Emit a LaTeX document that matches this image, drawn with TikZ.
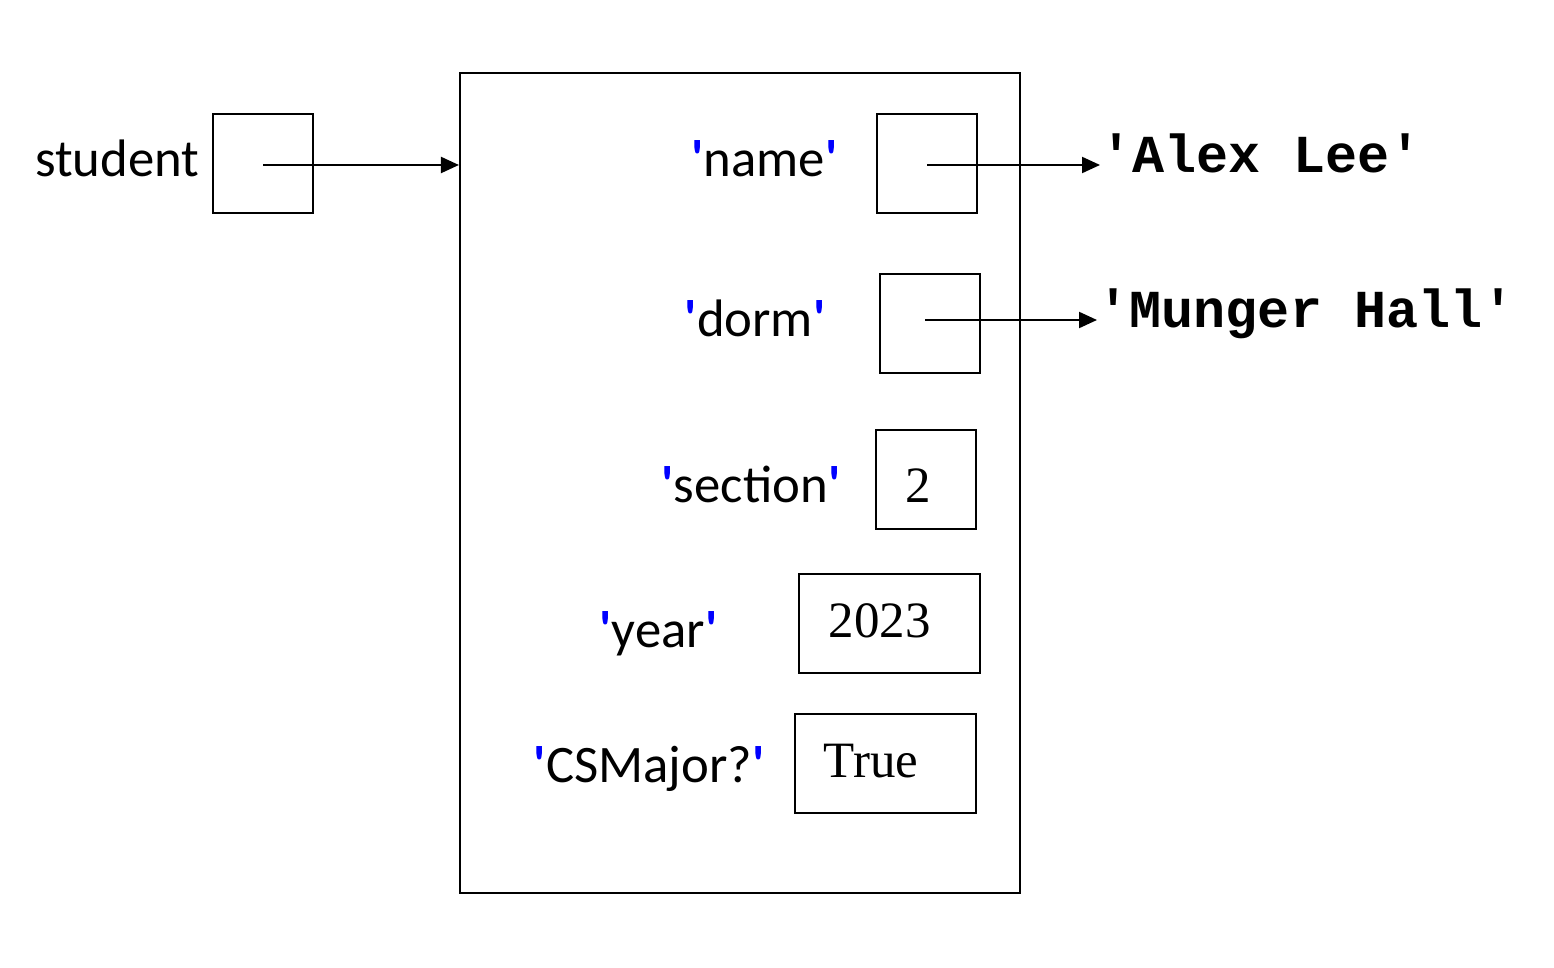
\documentclass[tikz,border=0pt]{standalone}
\usepackage{fontspec}
\usepackage{tikz}
\usetikzlibrary{positioning, arrows.meta}
\newfontfamily\labfont{Carlito}
\newfontfamily\codefont{Liberation Mono}
\newfontfamily\valfont{Liberation Serif}
\newcommand{\bq}{{\color{blue}\bfseries\char"27}}
\newcommand{\key}[1]{\bq#1\bq}

\begin{document}
\begin{tikzpicture}[cell/.style={draw, line width=0.6pt, minimum width=1cm,
		minimum height=0.99cm, inner sep=0pt}, wide/.style={cell, minimum width=1.81cm},
	lab/.style={font=\labfont\fontsize{15}{18}\selectfont, inner sep=0pt, anchor=base east},
	val/.style={font=\valfont\fontsize{14.5}{17}\selectfont, inner sep=0pt, anchor=base west},
	str/.style={font=\codefont\bfseries\fontsize{15.2}{18}\selectfont, inner sep=0pt, anchor=base west},
	ptr/.style={-{Triangle[length=1.8mm,width=1.6mm]}, line width=0.6pt}]
	\useasboundingbox (0,-9.68) rectangle (15.54,0);
	% variable
	\node [lab] (stu) at (2.0,-1.77) {student};
	\node [cell] (stubox) at (2.63,-1.635) {};
	% dictionary
	\node [draw, line width=0.6pt, minimum width=5.6cm, minimum height=8.2cm] (dict) at (7.40,-4.83) {};
	\node [lab] (kname) at (8.38,-1.77) {\key{name}};
	\node [lab] (kdorm) at (8.26,-3.37) {\key{dorm}};
	\node [lab] (ksec) at (8.41,-5.02) {\key{section}};
	\node [lab] (kyear) at (7.18,-6.47) {\key{year}};
	\node [lab] (kcs) at (7.65,-7.82) {\key{CSMajor?}};
	\node [cell] (vname) at (9.27,-1.635) {};
	\node [cell] (vdorm) at (9.30,-3.235) {};
	\node [cell] (vsec) at (9.26,-4.795) {};
	\node [wide] (vyear) at (8.895,-6.235) {};
	\node [wide] (vcs) at (8.855,-7.635) {};
	\node [val] (two) at (9.05,-5.02) {2};
	\node [val] (yr) at (8.28,-6.37) {2023};
	\node [val] (tru) at (8.23,-7.77) {True};
	% strings
	\node [str] (alex) at (11.0,-1.73) {'Alex Lee'};
	\node [str] (mung) at (10.97,-3.28) {'Munger Hall'};
	\draw [ptr] ([yshift=-0.015cm]stubox.center) -- ([yshift=-0.015cm]stubox.center -| dict.west);
	\draw [ptr] ([yshift=-0.015cm]vname.center) -- ([yshift=-0.015cm]vname.center -| alex.west);
	\draw [ptr] ([shift={(-0.05,0.035)}]vdorm.center) -- ([yshift=0.035cm]vdorm.center -| mung.west);
\end{tikzpicture}
\end{document}
